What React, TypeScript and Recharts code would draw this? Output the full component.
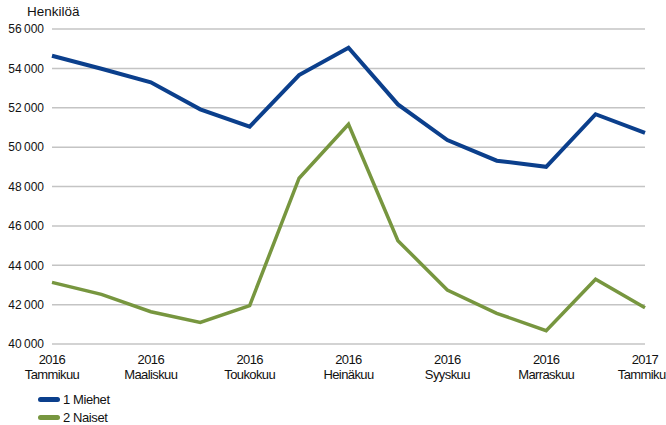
import React from 'react';
import { LineChart, Line, XAxis, YAxis, CartesianGrid, Legend } from 'recharts';

// Monthly values, Jan 2016 - Jan 2017
const years = ['2016', '2016', '2016', '2016', '2016', '2016', '2016', '2016', '2016', '2016', '2016', '2016', '2017'];
const months = [
  'Tammikuu', 'Helmikuu', 'Maaliskuu', 'Huhtikuu', 'Toukokuu', 'Kesäkuu', 'Heinäkuu',
  'Elokuu', 'Syyskuu', 'Lokakuu', 'Marraskuu', 'Joulukuu', 'Tammikuu',
];
const miehet = [54640, 53980, 53290, 51920, 51040, 53660, 55050, 52170, 50360, 49310, 49000, 51670, 50730];
const naiset = [43130, 42520, 41640, 41100, 41950, 48420, 51160, 45250, 42740, 41560, 40680, 43290, 41840];
const yTicks = [40000, 42000, 44000, 46000, 48000, 50000, 52000, 54000, 56000];

const series = [
  { key: 'miehet', name: '1 Miehet', color: '#0b3f8c', width: 4 },
  { key: 'naiset', name: '2 Naiset', color: '#77963f', width: 3.5 },
];

const data = months.map((m, i) => ({
  label: `${years[i]}|${m}`,
  miehet: miehet[i],
  naiset: naiset[i],
}));

const narrow = "'Liberation Sans Narrow', 'Arial Narrow', 'Liberation Sans', Arial, sans-serif";
const regular = "'Liberation Sans', Arial, sans-serif";

const fmt = (v: number) => `${Math.floor(v / 1000)}\u2009000`;

// two-line category label: year on top, month below
const MonthTick = (props: any) => {
  const { x, y, payload } = props;
  const [yr, mo] = String(payload.value).split('|');
  return (
    <text x={x} y={y} textAnchor="middle" fill="#111" fontSize={13} fontFamily={narrow} letterSpacing={-0.6}>
      <tspan x={x} y={y + 18}>{yr}</tspan>
      <tspan x={x} y={y + 33}>{mo}</tspan>
    </text>
  );
};

const LegendBox = () => (
  <div style={{ height: 41, position: 'relative', fontFamily: narrow, fontSize: 13, letterSpacing: -0.4, color: '#111' }}>
    {series.map((s, i) => (
      <div key={s.key} style={{ position: 'absolute', left: 38, top: 9 + i * 18, height: 13, display: 'flex', alignItems: 'center' }}>
        <span style={{ display: 'inline-block', width: 22, height: 5, borderRadius: 3, background: s.color }} />
        <span style={{ marginLeft: 3, lineHeight: '13px' }}>{s.name}</span>
      </div>
    ))}
  </div>
);

export default function App() {
  return (
    <div style={{ position: 'absolute', left: 0, top: 0, width: 666, height: 425, overflow: 'hidden', background: '#fff' }}>
      <div style={{ position: 'absolute', left: 27, top: 4, fontFamily: regular, fontSize: 13.5, color: '#111' }}>Henkilöä</div>
      <LineChart width={666} height={425} data={data} margin={{ top: 29, right: 21, left: 0, bottom: 0 }}>
        <CartesianGrid vertical={false} stroke="#c4c4c4" strokeWidth={1.5} />
        <XAxis
          dataKey="label"
          interval={1}
          height={40}
          axisLine={false}
          tickLine={false}
          tickSize={0}
          tick={<MonthTick />}
        />
        <YAxis
          width={52}
          domain={[40000, 56000]}
          ticks={yTicks}
          tickFormatter={fmt}
          axisLine={false}
          tickLine={false}
          tickSize={0}
          tickMargin={8}
          tick={{ fontSize: 12, fill: '#111', fontFamily: regular }}
        />
        <Legend verticalAlign="bottom" align="left" height={41} content={<LegendBox />} />
        {series.map((s) => (
          <Line
            key={s.key}
            type="linear"
            dataKey={s.key}
            name={s.name}
            stroke={s.color}
            strokeWidth={s.width}
            dot={false}
            isAnimationActive={false}
          />
        ))}
      </LineChart>
    </div>
  );
}
